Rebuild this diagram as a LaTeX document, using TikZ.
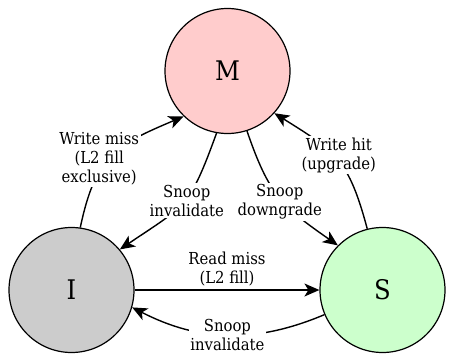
\documentclass[tikz,border=0pt]{standalone}
\usepackage{fontspec}
\setmainfont{DejaVu Serif Condensed}
\usetikzlibrary{arrows.meta}
\definecolor{mfill}{HTML}{FFCCCC}
\definecolor{ifill}{HTML}{CCCCCC}
\definecolor{sfill}{HTML}{CCFFCC}
\begin{document}
\begin{tikzpicture}[x=1pt,y=-1pt,
  state/.style={circle,draw=black,line width=1.2pt,minimum size=125pt,inner sep=0pt,
    font=\fontsize{27}{30}\selectfont},
  arr/.style={line width=1.4pt,-{Stealth[length=15pt,width=13pt,inset=4pt]}},
  lbl/.style={fill=white,inner sep=1.5pt,align=center,font=\fontsize{16.5}{19}\selectfont}]
\useasboundingbox (0,0) rectangle (454,362);
\node[state,fill=mfill] (M) at (227.5,71) {M};
\node[state,fill=ifill] (I) at (71.5,290) {I};
\node[state,fill=sfill] (S) at (382.5,290) {S};
\draw[arr] (I) -- (S) node[midway,above=2pt,lbl,fill=none] {Read miss\\(L2 fill)};
\draw[arr] (S.203) to[bend left=25] node[lbl,pos=0.5] {Snoop\\invalidate} (I.-16);
\draw[arr] (I.82) to[out=78,in=203,looseness=1.25] node[lbl,pos=0.5,xshift=-13pt,yshift=-3pt] {Write miss\\(L2 fill\\exclusive)} (M.226);
\draw[arr] (M.260) to[out=250,in=34,looseness=1.35] node[lbl,pos=0.5,xshift=4pt,yshift=2pt] {Snoop\\invalidate} (I.40);
\draw[arr] (M.288) to[out=289,in=145,looseness=1.2] node[lbl,pos=0.5,yshift=-4pt] {Snoop\\downgrade} (S.135);
\draw[arr] (S.104) to[out=105,in=328,looseness=1.25] node[lbl,pos=0.5,xshift=2pt,yshift=4pt] {Write hit\\(upgrade)} (M.318);
\end{tikzpicture}
\end{document}
